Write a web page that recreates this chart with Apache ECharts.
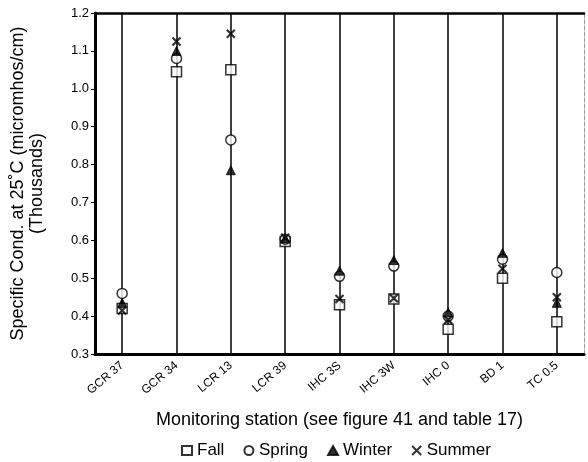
<!DOCTYPE html>
<html>
<head>
<meta charset="utf-8">
<script src="https://cdn.jsdelivr.net/npm/echarts@6/dist/echarts.min.js"></script>
<style>html,body{margin:0;padding:0;background:#fff}#c{width:588px;height:462px}</style>
</head>
<body>
<div id="c"></div>
<script>
var stations = ['GCR 37','GCR 34','LCR 13','LCR 39','IHC 3S','IHC 3W','IHC 0','BD 1','TC 0.5'];
var fall   = [0.420, 1.045, 1.050, 0.597, 0.430, 0.445, 0.365, 0.500, 0.385];
var spring = [0.460, 1.080, 0.865, 0.603, 0.505, 0.532, 0.400, 0.550, 0.515];
var winter = [0.435, 1.100, 0.785, 0.605, 0.520, 0.548, 0.410, 0.567, 0.435];
var summer = [0.415, 1.125, 1.145, 0.607, 0.445, 0.447, 0.390, 0.525, 0.450];
var yTicks = [0.3, 1.2, 0.1];

var FONT = '"Liberation Sans", Arial, Helvetica, sans-serif';
var crossPath = 'path://M0,0L10,10M10,0L0,10';

var chart = echarts.init(document.getElementById('c'));
function mk(name, data, symbol, size, style, extra) {
  var s = {
    name: name, type: 'scatter', data: data, symbol: symbol, symbolSize: size,
    itemStyle: style, z: 5, emphasis: {disabled: true}
  };
  if (extra) for (var k in extra) s[k] = extra[k];
  return s;
}
var option = {
  animation: false,
  textStyle: {fontFamily: FONT, color: '#000'},
  grid: {left: 95, right: 4, top: 13, bottom: 108, containLabel: false, outerBoundsMode: 'none'},
  legend: {
    data: ['Fall','Spring','Winter','Summer'],
    top: 437, left: 176, itemGap: 19, itemWidth: 10, itemHeight: 9,
    textStyle: {fontFamily: FONT, fontSize: 17, color: '#000'}
  },
  xAxis: [{
    type: 'category', data: stations, boundaryGap: true,
    name: 'Monitoring station (see figure 41 and table 17)',
    nameLocation: 'middle', nameGap: 57,
    nameTextStyle: {fontFamily: FONT, fontSize: 18, color: '#000'},
    axisLine: {lineStyle: {color: '#000', width: 3}},
    axisTick: {show: false},
    axisLabel: {rotate: 40, fontSize: 12, color: '#000', margin: 10, fontFamily: FONT},
    splitLine: {show: false}
  }, {
    type: 'category', data: stations, position: 'top',
    axisLine: {lineStyle: {color: '#000', width: 2.5}},
    axisTick: {show: false}, axisLabel: {show: false}
  }],
  yAxis: [{
    type: 'value', min: yTicks[0], max: yTicks[1], interval: yTicks[2],
    name: 'Specific Cond. at 25˚C (micromhos/cm)\n(Thousands)',
    nameLocation: 'middle', nameGap: 48, nameRotate: 90,
    nameTextStyle: {fontFamily: FONT, fontSize: 18, color: '#000', lineHeight: 19},
    axisLine: {show: true, lineStyle: {color: '#000', width: 3}},
    axisTick: {show: true, inside: false, length: 4, lineStyle: {color: '#000', width: 1}},
    axisLabel: {fontSize: 13, color: '#000', margin: 6, fontFamily: FONT,
      formatter: function (v) { return v.toFixed(1); }},
    splitLine: {show: false}
  }, {
    type: 'value', min: yTicks[0], max: yTicks[1], position: 'right',
    axisLine: {show: true, lineStyle: {color: '#999', width: 1, type: 'dashed'}},
    axisTick: {show: false}, axisLabel: {show: false}, splitLine: {show: false}
  }],
  series: [
    mk('Fall', fall, 'rect', 10, {color: '#fff', borderColor: '#000', borderWidth: 1.5}, {
      markLine: {
        silent: true, symbol: ['none','none'], label: {show: false},
        lineStyle: {color: '#000', width: 1.5, type: 'solid'}, z: 1,
        data: stations.map(function (s) { return {xAxis: s}; })
      }
    }),
    mk('Spring', spring, 'circle', 10, {color: '#fff', borderColor: '#000', borderWidth: 1.5}),
    mk('Winter', winter, 'triangle', 9, {color: '#000', borderColor: '#000', borderWidth: 1}),
    mk('Summer', summer, crossPath, 8, {color: '#000', borderColor: '#000', borderWidth: 2.2})
  ]
};
chart.setOption(option);
</script>
</body>
</html>
